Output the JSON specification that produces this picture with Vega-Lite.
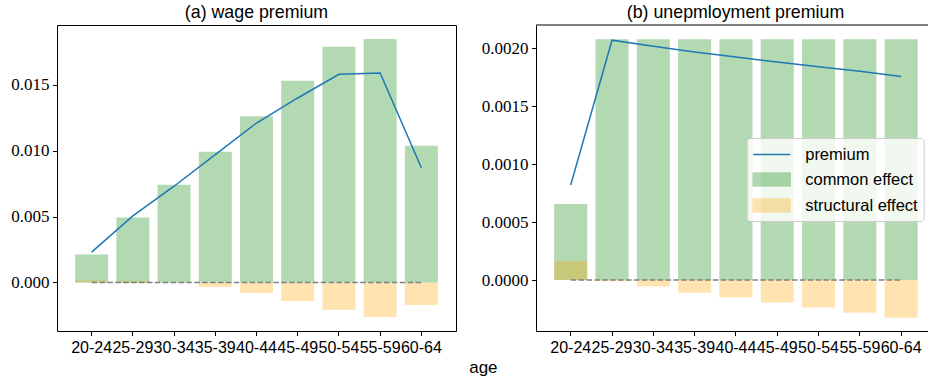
{
  "$schema": "https://vega.github.io/schema/vega-lite/v6.json",
  "background": "white",
  "padding": {"left": 10, "top": 3, "right": 0, "bottom": 0},
  "title": {"text": "age", "orient": "bottom", "anchor": "middle", "fontSize": 17, "dx": 14, "offset": 4},
  "datasets": {
    "wage": [
      {"age": "20-24", "series": "common effect", "value": 0.00212},
      {"age": "25-29", "series": "common effect", "value": 0.00492},
      {"age": "30-34", "series": "common effect", "value": 0.00742},
      {"age": "35-39", "series": "common effect", "value": 0.00992},
      {"age": "40-44", "series": "common effect", "value": 0.01262},
      {"age": "45-49", "series": "common effect", "value": 0.0153},
      {"age": "50-54", "series": "common effect", "value": 0.01788},
      {"age": "55-59", "series": "common effect", "value": 0.01848},
      {"age": "60-64", "series": "common effect", "value": 0.01038},
      {"age": "20-24", "series": "structural effect", "value": 0.00015},
      {"age": "25-29", "series": "structural effect", "value": 0.0001},
      {"age": "30-34", "series": "structural effect", "value": 0.00002},
      {"age": "35-39", "series": "structural effect", "value": -0.00035},
      {"age": "40-44", "series": "structural effect", "value": -0.00081},
      {"age": "45-49", "series": "structural effect", "value": -0.00141},
      {"age": "50-54", "series": "structural effect", "value": -0.0021},
      {"age": "55-59", "series": "structural effect", "value": -0.00263},
      {"age": "60-64", "series": "structural effect", "value": -0.00172},
      {"age": "20-24", "series": "premium", "value": 0.0023},
      {"age": "25-29", "series": "premium", "value": 0.00505},
      {"age": "30-34", "series": "premium", "value": 0.0073},
      {"age": "35-39", "series": "premium", "value": 0.0097},
      {"age": "40-44", "series": "premium", "value": 0.0121},
      {"age": "45-49", "series": "premium", "value": 0.0140},
      {"age": "50-54", "series": "premium", "value": 0.0158},
      {"age": "55-59", "series": "premium", "value": 0.0159},
      {"age": "60-64", "series": "premium", "value": 0.0087}
    ],
    "unemp": [
      {"age": "20-24", "series": "common effect", "value": 0.000655},
      {"age": "25-29", "series": "common effect", "value": 0.002078},
      {"age": "30-34", "series": "common effect", "value": 0.002078},
      {"age": "35-39", "series": "common effect", "value": 0.002078},
      {"age": "40-44", "series": "common effect", "value": 0.002078},
      {"age": "45-49", "series": "common effect", "value": 0.002078},
      {"age": "50-54", "series": "common effect", "value": 0.002078},
      {"age": "55-59", "series": "common effect", "value": 0.002078},
      {"age": "60-64", "series": "common effect", "value": 0.002078},
      {"age": "20-24", "series": "structural effect", "value": 0.000164},
      {"age": "25-29", "series": "structural effect", "value": -0.00001},
      {"age": "30-34", "series": "structural effect", "value": -0.000057},
      {"age": "35-39", "series": "structural effect", "value": -0.000109},
      {"age": "40-44", "series": "structural effect", "value": -0.000152},
      {"age": "45-49", "series": "structural effect", "value": -0.000195},
      {"age": "50-54", "series": "structural effect", "value": -0.000238},
      {"age": "55-59", "series": "structural effect", "value": -0.000282},
      {"age": "60-64", "series": "structural effect", "value": -0.000325},
      {"age": "20-24", "series": "premium", "value": 0.00082},
      {"age": "25-29", "series": "premium", "value": 0.002069},
      {"age": "30-34", "series": "premium", "value": 0.002017},
      {"age": "35-39", "series": "premium", "value": 0.001968},
      {"age": "40-44", "series": "premium", "value": 0.001924},
      {"age": "45-49", "series": "premium", "value": 0.00188},
      {"age": "50-54", "series": "premium", "value": 0.00184},
      {"age": "55-59", "series": "premium", "value": 0.0018},
      {"age": "60-64", "series": "premium", "value": 0.001756}
    ]
  },
  "config": {
    "font": "Liberation Sans",
    "view": {"stroke": "black", "strokeWidth": 1},
    "axis": {"grid": false, "domain": false, "tickColor": "black", "tickSize": 4.5, "tickWidth": 1, "labelColor": "black", "domainColor": "black", "domainWidth": 1},
    "axisY": {"labelFont": "Liberation Serif", "labelFontSize": 17, "labelPadding": 3.5},
    "axisX": {"labelFont": "Liberation Sans", "labelFontSize": 16, "labelAngle": 0, "labelOverlap": false, "labelPadding": 4},
    "title": {"font": "Liberation Sans", "fontSize": 17.8, "fontWeight": "normal", "color": "black"},
    "concat": {"spacing": 24}
  },
  "resolve": {"scale": {"x": "independent", "y": "independent"}, "legend": {"color": "independent"}},
  "hconcat": [
    {
      "width": 399,
      "height": 306,
      "title": {"text": "(a) wage premium", "offset": 3},
      "data": {"name": "wage"},
      "encoding": {
        "x": {"field": "age", "type": "ordinal", "title": null, "scale": {"paddingInner": 0.2, "paddingOuter": 0.44}},
        "color": {"field": "series", "type": "nominal", "legend": null,
          "scale": {"domain": ["premium", "common effect", "structural effect"], "range": ["#1f77b4", "green", "orange"]}}
      },
      "layer": [
        {
          "transform": [{"filter": "datum.series == 'common effect'"}],
          "mark": {"type": "bar", "opacity": 0.3},
          "encoding": {"y": {"field": "value", "type": "quantitative", "stack": null, "title": null,
            "scale": {"domain": [-0.00369, 0.01954], "nice": false, "zero": false},
            "axis": {"values": [0, 0.005, 0.01, 0.015], "format": ".3f"}}}
        },
        {
          "transform": [{"filter": "datum.series == 'structural effect'"}],
          "mark": {"type": "bar", "opacity": 0.3},
          "encoding": {"y": {"field": "value", "type": "quantitative", "stack": null, "title": null}}
        },
        {
          "transform": [{"filter": "datum.series == 'premium'"}],
          "mark": {"type": "line", "strokeDash": [5.5, 2.4], "strokeWidth": 1.5},
          "encoding": {"y": {"datum": 0, "type": "quantitative", "title": null}, "color": {"value": "gray"}}
        },
        {
          "transform": [{"filter": "datum.series == 'premium'"}],
          "mark": {"type": "line", "strokeWidth": 1.5},
          "encoding": {"y": {"field": "value", "type": "quantitative", "title": null}}
        }
      ]
    },
    {
      "width": 392,
      "height": 306,
      "view": {"stroke": null},
      "title": {"text": "(b) unepmloyment premium", "offset": 3, "dx": 3.5},
      "data": {"name": "unemp"},
      "encoding": {
        "x": {"field": "age", "type": "ordinal", "title": null,
          "scale": {"paddingInner": 0.2, "paddingOuter": 0.345, "align": 0.638},
          "axis": {"domain": true}},
        "color": {"field": "series", "type": "nominal",
          "scale": {"domain": ["premium", "common effect", "structural effect"], "range": ["#1f77b4", "green", "orange"]},
          "legend": {
            "orient": "none", "legendX": 210.7, "legendY": 113, "title": null,
            "fillColor": "rgba(255,255,255,0.8)", "strokeColor": "#cccccc", "cornerRadius": 3, "padding": 5.5,
            "labelFont": "Liberation Sans", "labelFontSize": 16.5, "labelColor": "black",
            "symbolSize": 400, "labelOffset": 31, "rowPadding": 5,
            "encode": {"symbols": {"update": {
              "shape": {"signal": "datum.value == 'premium' ? 'M-1,0H2.7' : 'M-1,-0.65H2.7V0.65H-1Z'"},
              "fill": {"signal": "datum.value == 'premium' ? 'transparent' : (datum.value == 'common effect' ? 'green' : 'orange')"},
              "stroke": {"signal": "datum.value == 'premium' ? '#1f77b4' : 'transparent'"},
              "strokeWidth": {"value": 1.5},
              "opacity": {"signal": "datum.value == 'premium' ? 1 : 0.3"}
            }}}
          }}
      },
      "layer": [
        {
          "transform": [{"filter": "datum.series == 'common effect'"}],
          "mark": {"type": "bar", "opacity": 0.3},
          "encoding": {"y": {"field": "value", "type": "quantitative", "stack": null, "title": null,
            "scale": {"domain": [-0.00044, 0.0022], "nice": false, "zero": false},
            "axis": {"values": [0, 0.0005, 0.001, 0.0015, 0.002], "format": ".4f", "domain": true}}}
        },
        {
          "transform": [{"filter": "datum.series == 'structural effect'"}],
          "mark": {"type": "bar", "opacity": 0.3},
          "encoding": {"y": {"field": "value", "type": "quantitative", "stack": null, "title": null}}
        },
        {
          "transform": [{"filter": "datum.series == 'premium'"}],
          "mark": {"type": "line", "strokeDash": [5.5, 2.4], "strokeWidth": 1.5},
          "encoding": {"y": {"datum": 0, "type": "quantitative", "title": null}, "color": {"value": "gray"}}
        },
        {
          "transform": [{"filter": "datum.series == 'premium'"}],
          "mark": {"type": "line", "strokeWidth": 1.5},
          "encoding": {"y": {"field": "value", "type": "quantitative", "title": null}}
        },
        {
          "transform": [{"filter": "datum.series == 'premium' && datum.age == '20-24'"}],
          "mark": {"type": "rule", "strokeWidth": 1},
          "encoding": {"y": {"datum": 0.0022, "type": "quantitative", "title": null}, "x": null, "color": {"value": "black"}}
        }
      ]
    }
  ]
}
